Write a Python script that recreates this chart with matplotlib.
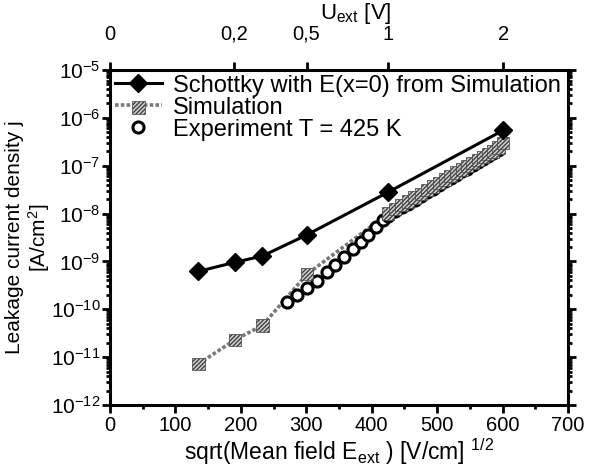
import matplotlib
matplotlib.use("Agg")
import matplotlib.pyplot as plt
from matplotlib.ticker import MultipleLocator, LogLocator, NullFormatter
from matplotlib.legend_handler import HandlerTuple

plt.rcParams['font.family'] = ['Liberation Sans', 'DejaVu Sans']
plt.rcParams['mathtext.fontset'] = 'custom'
plt.rcParams['mathtext.rm'] = 'Liberation Sans'
plt.rcParams['mathtext.it'] = 'Liberation Sans:italic'
plt.rcParams['mathtext.bf'] = 'Liberation Sans:bold'

# sqrt(E) [V/cm]^1/2 and leakage current density [A/cm^2]
schottky_x = [135, 191, 233, 301, 425, 601]
schottky_j = [6.2e-10, 9.6e-10, 1.3e-9, 3.6e-9, 2.8e-8, 5.5e-7]

sim_x = [135, 191, 233, 301, 425, 435.5, 445.7, 455.8, 465.6, 475.2, 484.6, 493.8,
         502.9, 511.8, 520.5, 529.1, 537.6, 545.9, 554.1, 562.2, 570.2, 578.1,
         585.8, 593.5, 601]
sim_j = [7.2e-12, 2.3e-11, 4.6e-11, 5.4e-10, 1.0e-8, 1.25e-8, 1.5e-8, 1.8e-8,
         2.15e-8, 2.6e-8, 3.1e-8, 3.7e-8, 4.4e-8, 5.2e-8, 6.1e-8, 7.2e-8, 8.4e-8,
         9.8e-8, 1.14e-7, 1.32e-7, 1.52e-7, 1.75e-7, 2.0e-7, 2.4e-7, 3.0e-7]

exp_x = [270, 285.4, 301.7, 317, 331, 344.5, 357.8, 371, 383, 395, 406.7, 418,
         425, 435.5, 445.7, 455.8, 465.6, 475.2, 484.6, 493.8, 502.9, 511.8,
         520.5, 529.1, 537.6, 545.9, 554.1, 562.2, 570.2, 578.1, 585.8, 593.5]
exp_j = [1.43e-10, 1.95e-10, 2.8e-10, 3.85e-10, 5.9e-10, 8.3e-10, 1.25e-9, 1.8e-9,
         2.6e-9, 3.6e-9, 5.2e-9, 7.2e-9, 9.1e-9, 1.12e-8, 1.35e-8, 1.62e-8, 1.95e-8,
         2.35e-8, 2.8e-8, 3.3e-8, 4.0e-8, 4.7e-8, 5.5e-8, 6.5e-8, 7.6e-8, 8.7e-8,
         1.02e-7, 1.17e-7, 1.38e-7, 1.58e-7, 1.82e-7, 2.14e-7]

# top axis: external voltage
u_ticks = [0, 0.2, 0.5, 1, 2]
u_labels = ['0', '0,2', '0,5', '1', '2']
field_per_volt = 425.0  # sqrt(E) = 425 * sqrt(U)

fig = plt.figure(figsize=(5.9, 4.7), dpi=100)
ax = fig.add_axes([0.1864, 0.1383, 0.7763, 0.7127])

ax.plot(exp_x, exp_j, ls='none', marker='o', ms=8, mfc='white', mec='black',
        mew=2.2, zorder=3)
exp_h = ax.plot([], [], ls='none', marker='o', ms=8, mfc='white', mec='black', mew=2.2)[0]

sim_line = ax.plot(sim_x, sim_j, color='#7a7a7a', ls=(0, (1, 0.6)), lw=2.6, zorder=2)[0]
sim_pts = ax.scatter(sim_x, sim_j, marker='s', s=80, facecolor='#d0d0d0',
                     edgecolor='#404040', hatch='////////', linewidths=0.5, zorder=4)

sch_h = ax.plot(schottky_x, schottky_j, color='black', lw=2.2, marker='D', ms=9,
                mfc='black', mec='black', zorder=5)[0]

ax.set_yscale('log')
ax.set_xlim(0, 700)
ax.set_ylim(1e-12, 1e-5)
ax.xaxis.set_major_locator(MultipleLocator(100))
ax.xaxis.set_minor_locator(MultipleLocator(50))
ax.yaxis.set_major_locator(LogLocator(base=10, numticks=20))
ax.yaxis.set_minor_locator(LogLocator(base=10, subs=range(2, 10), numticks=100))
ax.yaxis.set_minor_formatter(NullFormatter())

ax.tick_params(which='both', direction='out', width=2, top=False, right=True,
               left=True, bottom=True)
ax.tick_params(axis='x', labelsize=14.5, pad=2)
ax.tick_params(axis='y', labelsize=15, pad=1)
ax.tick_params(which='major', length=6)
ax.tick_params(which='minor', length=3)
for sp in ax.spines.values():
    sp.set_linewidth(2.2)

ax.set_xlabel('sqrt(Mean field E$_{\\rm ext}$ ) [V/cm] $^{1/2}$', fontsize=16.5, labelpad=1)
ax.set_ylabel('Leakage current density j\n[A/cm$^2$]', fontsize=15,
              linespacing=1.1)
ax.yaxis.set_label_coords(-0.127, 0.5)

top = ax.secondary_xaxis('top', functions=(lambda s: (s / field_per_volt) ** 2,
                                           lambda u: field_per_volt * u ** 0.5))
top.set_xticks(u_ticks)
top.set_xticklabels(u_labels)
top.tick_params(direction='out', width=2, length=6, labelsize=14.5, pad=13)
top.xaxis.set_minor_locator(MultipleLocator(100))
top.tick_params(which='minor', length=0)
fig.text(356 / 590, 1 - 1 / 470, 'U$_{\\rm ext}$ [V]', ha='center', va='top', fontsize=16)

ax.legend([sch_h, (sim_line, sim_pts), exp_h],
          ['Schottky with E(x=0) from Simulation', 'Simulation', 'Experiment T = 425 K'],
          handler_map={tuple: HandlerTuple(ndivide=1)},
          loc='upper left', frameon=False, fontsize=17, handlelength=2.0,
          handletextpad=0.45, labelspacing=0.0, borderaxespad=0.1,
          borderpad=0.1)

fig.savefig('out.png', dpi=100)
